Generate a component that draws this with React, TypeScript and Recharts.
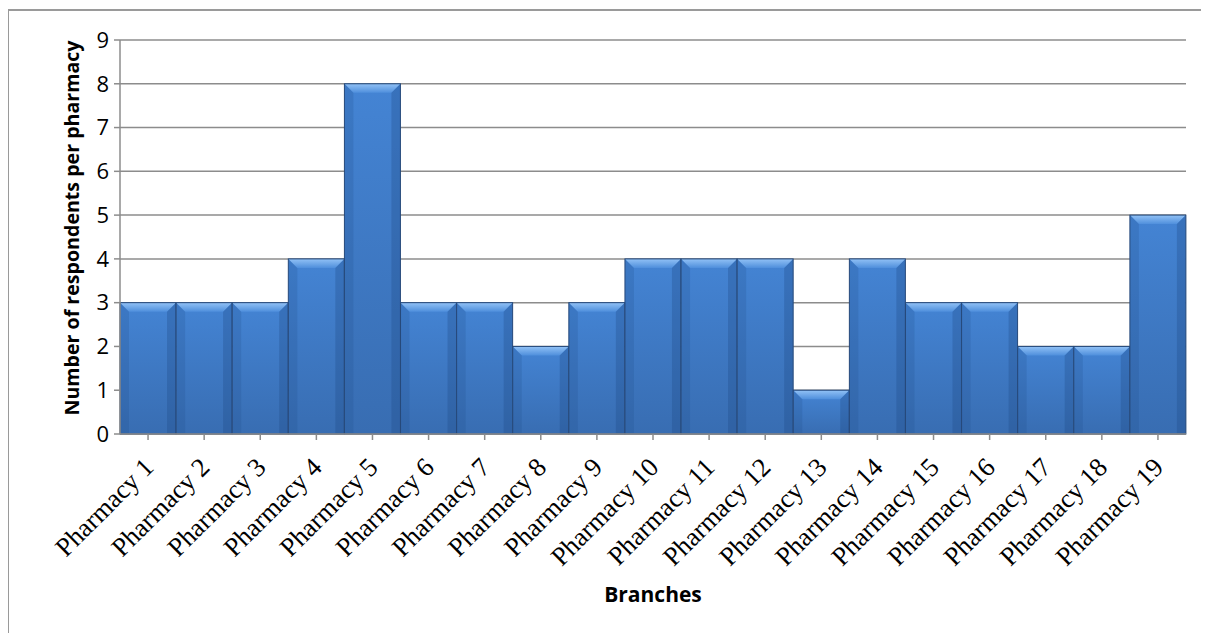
import { BarChart, Bar, XAxis, YAxis, CartesianGrid, Label } from 'recharts';

const pharmacies = [
  'Pharmacy 1', 'Pharmacy 2', 'Pharmacy 3', 'Pharmacy 4', 'Pharmacy 5',
  'Pharmacy 6', 'Pharmacy 7', 'Pharmacy 8', 'Pharmacy 9', 'Pharmacy 10',
  'Pharmacy 11', 'Pharmacy 12', 'Pharmacy 13', 'Pharmacy 14', 'Pharmacy 15',
  'Pharmacy 16', 'Pharmacy 17', 'Pharmacy 18', 'Pharmacy 19',
];
const respondents = [3, 3, 3, 4, 8, 3, 3, 2, 3, 4, 4, 4, 1, 4, 3, 3, 2, 2, 5];
const yTicks = [0, 1, 2, 3, 4, 5, 6, 7, 8, 9];

const data = pharmacies.map((name, i) => ({ name, value: respondents[i] }));

const sansFont = '"Open Sans", "Liberation Sans", sans-serif';
const serifFont = '"Liberation Serif", "Times New Roman", serif';

// bar with a bevelled top edge and darker sides
const BevelBar = (props: any) => {
  const { x, y, width, height } = props;
  if (!height || height <= 0) return null;
  const b = Math.min(9, height / 2);
  return (
    <g>
      <rect x={x} y={y} width={width} height={height} fill="url(#barBody)" />
      <polygon
        points={`${x},${y} ${x + width},${y} ${x + width - b},${y + b} ${x + b},${y + b}`}
        fill="url(#barTop)"
      />
      <polygon
        points={`${x},${y} ${x + b},${y + b} ${x + b},${y + height} ${x},${y + height}`}
        fill="#1e4a86"
        opacity={0.2}
      />
      <polygon
        points={`${x + width},${y} ${x + width - b},${y + b} ${x + width - b},${y + height} ${x + width},${y + height}`}
        fill="#1e4a86"
        opacity={0.3}
      />
      <rect x={x} y={y} width={width} height={height} fill="none" stroke="#26497a" strokeWidth={1} />
    </g>
  );
};

const PharmacyTick = (props: any) => {
  const { x, y, payload } = props;
  return (
    <g transform={`translate(${x + 7},${y + 27})`}>
      <text
        x={0}
        y={0}
        textAnchor="end"
        transform="rotate(-45)"
        fontFamily={serifFont}
        fontSize={26.5}
        fill="#000"
      >
        {payload.value}
      </text>
    </g>
  );
};

const App = () => {
  return (
    <div
      style={{
        width: 1202,
        height: 624,
        marginLeft: -1,
        marginTop: 1,
        borderLeft: '2px solid #9a9a9a',
        borderTop: '2px solid #9a9a9a',
        boxSizing: 'border-box',
        background: '#fff',
      }}
    >
      <BarChart
        width={1200}
        height={622}
        data={data}
        barCategoryGap={0}
        margin={{ top: 29, right: 23, bottom: 0, left: 0 }}
      >
        <defs>
          <linearGradient id="barBody" x1="0" y1="0" x2="0" y2="1">
            <stop offset="0%" stopColor="#4484d4" />
            <stop offset="100%" stopColor="#386db2" />
          </linearGradient>
          <linearGradient id="barTop" x1="0" y1="0" x2="0" y2="1">
            <stop offset="0%" stopColor="#92c2f6" />
            <stop offset="100%" stopColor="#4f8fdc" />
          </linearGradient>
        </defs>
        <CartesianGrid vertical={false} stroke="#8c8c8c" strokeWidth={1.5} />
        <XAxis
          dataKey="name"
          interval={0}
          height={199}
          tickSize={6}
          tickLine={{ stroke: '#8c8c8c', strokeWidth: 1.5 }}
          axisLine={{ stroke: '#8c8c8c', strokeWidth: 1.5 }}
          tick={<PharmacyTick />}
        >
          <Label
            content={({ viewBox }: any) => (
              <text
                x={viewBox.x + viewBox.width / 2}
                y={viewBox.y + 168}
                textAnchor="middle"
                fontFamily={sansFont}
                fontWeight="bold"
                fontSize={21}
                fill="#000"
              >
                Branches
              </text>
            )}
          />
        </XAxis>
        <YAxis
          width={111}
          domain={[0, 9]}
          ticks={yTicks}
          interval={0}
          tickSize={6}
          tickMargin={5}
          tickLine={{ stroke: '#8c8c8c', strokeWidth: 1.5 }}
          axisLine={{ stroke: '#8c8c8c', strokeWidth: 1.5 }}
          tick={{ fontFamily: sansFont, fontSize: 22, fill: '#000' }}
        >
          <Label
            content={({ viewBox }: any) => {
              const cx = viewBox.x + 70;
              const cy = viewBox.y + viewBox.height / 2 - 9;
              return (
                <text
                  x={cx}
                  y={cy}
                  textAnchor="middle"
                  transform={`rotate(-90, ${cx}, ${cy})`}
                  fontFamily={sansFont}
                  fontWeight="bold"
                  fontSize={19.6}
                  fill="#000"
                >
                  Number of respondents per pharmacy
                </text>
              );
            }}
          />
        </YAxis>
        <Bar dataKey="value" shape={<BevelBar />} isAnimationActive={false} />
      </BarChart>
    </div>
  );
};

export default App;
